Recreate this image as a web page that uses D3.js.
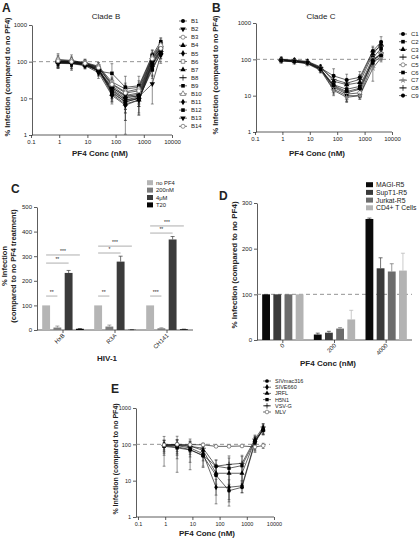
<!DOCTYPE html>
<html><head><meta charset="utf-8">
<script src="https://cdn.jsdelivr.net/npm/d3@7"></script>
<style>body{margin:0;background:#fff} svg{display:block} text{font-family:"Liberation Sans",Arial,sans-serif;fill:#222}</style>
</head><body><svg id="c" width="420" height="538"></svg>
<script>
// ---------------- DATA ----------------
const conc = [0.91, 2.74, 8.23, 24.7, 74.1, 222, 667, 2000, 4000];
const logXTicks = [0.1, 1, 10, 100, 1000, 10000];
const logYTicks = [1, 10, 100, 1000];

const cladeBNames = ["B1","B2","B3","B4","B5","B6","B7","B8","B9","B10","B11","B12","B13","B14"];
const cladeBValues = [
  [100, 98, 88, 65, 15, 8, 10, 90, 200],
  [95, 92, 85, 60, 18, 10, 12, 100, 220],
  [105, 100, 90, 70, 22, 12, 14, 120, 260],
  [98, 95, 82, 58, 13, 7, 9, 80, 180],
  [92, 90, 80, 55, 16, 9, 11, 95, 210],
  [110, 105, 95, 75, 28, 18, 20, 140, 300],
  [100, 97, 88, 62, 20, 11, 13, 110, 240],
  [96, 94, 85, 60, 17, 9, 10, 85, 190],
  [102, 99, 87, 55, 48, 20, 22, 150, 350],
  [115, 108, 92, 72, 25, 15, 18, 130, 280],
  [90, 88, 78, 50, 12, 6.5, 9, 70, 160],
  [100, 96, 86, 64, 14, 8, 10, 60, 170],
  [94, 92, 82, 58, 19, 12, 11, 25, 150],
  [105, 100, 90, 68, 24, 14, 16, 120, 230]
];
const cladeBErrors = [
  [20, 18, 12, 15, 5, 3, 3, 30, 60],
  [25, 20, 15, 12, 6, 4, 4, 35, 60],
  [30, 25, 15, 15, 8, 5, 5, 40, 70],
  [15, 20, 10, 10, 4, 3, 3, 25, 40],
  [20, 25, 12, 12, 6, 4, 5, 30, 50],
  [40, 30, 20, 20, 10, 8, 10, 60, 120],
  [20, 20, 15, 15, 7, 5, 6, 35, 60],
  [15, 18, 12, 10, 5, 4, 4, 25, 45],
  [25, 25, 15, 15, 40, 20, 18, 60, 100],
  [50, 45, 25, 20, 10, 8, 8, 50, 80],
  [25, 30, 15, 15, 5, 4, 5.5, 30, 40],
  [20, 20, 12, 12, 6, 4, 4, 25, 50],
  [25, 25, 15, 15, 8, 9.5, 7.5, 18, 60],
  [20, 25, 15, 15, 8, 6, 6, 40, 60]
];

const cladeCNames = ["C1","C2","C3","C4","C5","C6","C7","C8","C9"];
const cladeCValues = [
  [98, 92, 85, 58, 35, 27, 32, 170, 300],
  [95, 90, 80, 55, 20, 15, 18, 110, 200],
  [100, 95, 88, 62, 25, 20, 23, 140, 260],
  [92, 86, 78, 52, 18, 12, 15, 90, 150],
  [96, 90, 82, 56, 17, 11, 12, 100, 140],
  [94, 88, 80, 54, 15, 10, 10, 80, 120],
  [90, 85, 75, 50, 14, 9, 10, 57, 110],
  [97, 92, 84, 60, 28, 22, 28, 160, 230],
  [93, 87, 79, 52, 19, 13, 16, 95, 130]
];
const cladeCErrors = [
  [18, 12, 10, 8, 20, 12, 14, 60, 120],
  [10, 10, 8, 8, 6, 5, 5, 30, 50],
  [15, 12, 10, 8, 8, 6, 6, 40, 60],
  [10, 10, 8, 8, 5, 4, 4, 25, 30],
  [12, 10, 8, 8, 5, 4, 3, 25, 30],
  [10, 10, 8, 8, 4, 3, 2, 20, 25],
  [10, 10, 8, 8, 4, 2.5, 2, 32, 25],
  [15, 12, 10, 10, 10, 8, 10, 50, 60],
  [10, 10, 8, 8, 6, 4, 4, 25, 30]
];

const hivStrains = ["HxB", "R3A", "CH141"];
const cTreatments = ["no PF4", "200nM", "4\u03bcM", "T20"];
const cValues = [[100, 10, 232, 5], [100, 14, 278, 1], [100, 7, 368, 3]];
const cErrors = [[0, 6, 10, 1], [0, 6, 22, 0.5], [0, 2, 12, 0.5]];
const cSigStrain = [0, 0, 0, 1, 1, 1, 2, 2, 2];
const cSigTo = [1, 2, 3, 1, 2, 3, 1, 2, 3];
const cSigLevel = [138, 272, 305, 138, 313, 341, 138, 394, 423];
const cSigLabel = ["**", "**", "***", "**", "*", "***", "***", "**", "***"];

const dConc = ["0", "200", "4000"];
const dCells = ["MAGI-R5", "SupT1-R5", "Jurkat-R5", "CD4+ T Cells"];
const dValues = [[100, 100, 100, 100], [12, 16, 25, 45], [265, 157, 150, 152]];
const dErrors = [[0, 0, 0, 0], [3, 3, 2, 20], [2, 23, 17, 38]];

const virusNames = ["SIVmac316", "SIVE660", "JRFL", "H5N1", "VSV-G", "MLV"];
const virusValues = [
  [90, 85, 72, 48, 14, 5.3, 6.6, 110, 260],
  [95, 92, 80, 55, 6.6, 6.6, 7.2, 120, 280],
  [100, 98, 90, 68, 16, 16, 16, 130, 250],
  [88, 80, 70, 50, 25, 22, 26, 125, 240],
  [92, 95, 88, 78, 25, 28, 30, 140, 300],
  [96, 100, 98, 97, 88, 88, 90, 85, 92]
];
const virusErrors = [
  [40, 45, 40, 25, 10, 2.3, 2, 40, 80],
  [70, 75, 60, 30, 4.3, 4, 2.5, 60, 90],
  [30, 35, 30, 20, 8, 10, 8, 30, 60],
  [25, 30, 25, 15, 12, 20, 20, 30, 50],
  [35, 40, 35, 30, 12, 20, 20, 30, 70],
  [10, 10, 8, 8, 6, 6, 6, 20, 15]
];

// ---------------- STYLES ----------------
const cladeBSymbols = ["circle","triDown","circleOpen","triUp","diamond","squareOpen","triUp","plus","square","triOpen","diamond","square","triDown","circleOpen"];
const cladeCSymbols = ["circle","square","triUp","plus","circleOpen","square","starGray","plus","circle"];
const virusSymbols = ["circle","diamond","triUp","square","plus","circleOpen"];
const cColors = ["#b5b5b5", "#7d7d7d", "#3b3b3b", "#050505"];
const dColors = ["#0a0a0a", "#3a3a3a", "#6c6c6c", "#b3b3b3"];

const svg = d3.select("#c");
const AX = "#333";

const symSpec = {
  circle: [d3.symbolCircle, 0, "#000", "none"],
  square: [d3.symbolSquare, 0, "#000", "none"],
  triUp: [d3.symbolTriangle, 0, "#000", "none"],
  triDown: [d3.symbolTriangle, 180, "#000", "none"],
  diamond: [d3.symbolDiamond, 0, "#000", "none"],
  plus: [d3.symbolPlus, 0, "none", "#000"],
  circleOpen: [d3.symbolCircle, 0, "#fff", "#666"],
  squareOpen: [d3.symbolSquare, 0, "#fff", "#666"],
  triOpen: [d3.symbolTriangle, 0, "#fff", "#666"],
  starGray: [d3.symbolStar, 0, "#888", "none"]
};
function drawSym(g, name, x, y, size) {
  const s = symSpec[name];
  g.append("path").attr("d", d3.symbol().type(s[0]).size(size)())
    .attr("transform", `translate(${x},${y}) rotate(${s[1]})`)
    .attr("fill", s[2]).attr("stroke", s[3]).attr("stroke-width", 0.7);
}

function styleAxis(g, fs) {
  g.selectAll("path,line").attr("stroke", AX).attr("stroke-width", 0.8);
  g.selectAll("text").attr("font-size", fs).attr("fill", "#222");
}

function logPanel(o) {
  const g = svg.append("g");
  const x = d3.scaleLog().domain([0.1, 10000]).range([o.x0, o.x1]);
  const y = d3.scaleLog().domain([1, 1000]).range([o.yBot, o.yTop]);
  const ya = g.append("g").attr("transform", `translate(${o.axisX},0)`)
    .call(d3.axisLeft(y).tickValues(logYTicks).tickFormat(d3.format("d")).tickSize(3).tickSizeOuter(0).tickPadding(2));
  styleAxis(ya, o.fs);
  const xa = g.append("g").attr("transform", `translate(0,${o.yBot})`)
    .call(d3.axisBottom(x).tickValues(logXTicks).tickFormat(d => d < 1 ? "0.1" : d3.format("d")(d)).tickSize(3).tickSizeOuter(0).tickPadding(2));
  xa.select(".domain").attr("d", `M${o.axisX},0H${o.x1}`);
  styleAxis(xa, o.fs);
  g.append("line").attr("x1", o.axisX).attr("x2", o.dashEnd).attr("y1", y(100)).attr("y2", y(100))
    .attr("stroke", "#888").attr("stroke-width", 0.9).attr("stroke-dasharray", "4,3");
  const line = d3.line().x(d => x(d[0])).y(d => y(d[1]));
  o.values.forEach((vals, i) => {
    const pts = vals.map((v, j) => [conc[j], v]);
    g.append("path").attr("d", line(pts)).attr("fill", "none").attr("stroke", "#111").attr("stroke-width", 0.65);
  });
  o.values.forEach((vals, i) => {
    vals.forEach((v, j) => {
      const e = o.errors[i][j];
      const lo = Math.max(v - e, 1.05), hi = v + e;
      const cx = x(conc[j]);
      g.append("path").attr("d", `M${cx},${y(lo)}V${y(hi)}M${cx - 1.4},${y(lo)}H${cx + 1.4}M${cx - 1.4},${y(hi)}H${cx + 1.4}`)
        .attr("stroke", "#333").attr("stroke-width", 0.55).attr("fill", "none");
    });
  });
  o.values.forEach((vals, i) => {
    vals.forEach((v, j) => drawSym(g, o.symbols[i], x(conc[j]), y(v), o.symSize));
  });
  o.names.forEach((n, i) => {
    const ly = o.legY + i * o.legStep;
    g.append("line").attr("x1", o.legX - 4).attr("x2", o.legX + 4).attr("y1", ly).attr("y2", ly).attr("stroke", "#111").attr("stroke-width", 0.6);
    drawSym(g, o.symbols[i], o.legX, ly, o.symSize);
    g.append("text").attr("x", o.legX + 8).attr("y", ly + o.legFs * 0.35).attr("font-size", o.legFs).text(n);
  });
  if (o.title) g.append("text").attr("x", o.titleX).attr("y", o.titleY).attr("text-anchor", "middle").attr("font-size", 8).text(o.title);
  g.append("text").attr("x", o.xLabX).attr("y", o.xLabY).attr("text-anchor", "middle").attr("font-size", 8).attr("font-weight", "bold").text("PF4 Conc (nM)");
  g.append("text").attr("transform", `translate(${o.yLabX},${o.yLabY}) rotate(-90)`).attr("text-anchor", "middle")
    .attr("font-size", o.yLabFs).attr("font-weight", "bold").text("% Infection (compared to no PF4)");
}

function letter(t, x, y) {
  svg.append("text").attr("x", x).attr("y", y).attr("font-size", 12).attr("font-weight", "bold").text(t);
}

// Panel A
letter("A", 2, 12);
logPanel({x0: 31, x1: 172, axisX: 32, yTop: 25, yBot: 135, dashEnd: 168, fs: 6,
  values: cladeBValues, errors: cladeBErrors, names: cladeBNames, symbols: cladeBSymbols, symSize: 13,
  legX: 183, legY: 21, legStep: 8.1, legFs: 6, title: "Clade B", titleX: 106, titleY: 19,
  xLabX: 100, xLabY: 156, yLabX: 10, yLabY: 77, yLabFs: 7.5});

// Panel B
letter("B", 212, 12);
logPanel({x0: 255, x1: 392, axisX: 256, yTop: 23, yBot: 132, dashEnd: 390, fs: 6,
  values: cladeCValues, errors: cladeCErrors, names: cladeCNames, symbols: cladeCSymbols, symSize: 13,
  legX: 403, legY: 34, legStep: 7.7, legFs: 6, title: "Clade C", titleX: 321, titleY: 19,
  xLabX: 317, xLabY: 156, yLabX: 218, yLabY: 75, yLabFs: 7.5});

// Panel E
letter("E", 111, 393);
logPanel({x0: 138, x1: 274, axisX: 136, yTop: 408, yBot: 517, dashEnd: 270, fs: 5.5,
  values: virusValues, errors: virusErrors, names: virusNames, symbols: virusSymbols, symSize: 11,
  legX: 267, legY: 381, legStep: 6.2, legFs: 5.5, title: null,
  xLabX: 207, xLabY: 536, yLabX: 118, yLabY: 459, yLabFs: 7});

// ---------------- Bar panels ----------------
function barPanel(o) {
  const g = svg.append("g");
  const x0 = d3.scaleBand().domain(o.groups).range([o.axisX, o.xEnd]).paddingInner(0.2).paddingOuter(0.1);
  const x1 = d3.scaleBand().domain(d3.range(o.series.length)).range([0, x0.bandwidth()]).paddingInner(0.3);
  const y = d3.scaleLinear().domain([0, o.yMax]).range([o.yBot, o.yTop]);
  const ya = g.append("g").attr("transform", `translate(${o.axisX},0)`)
    .call(d3.axisLeft(y).ticks(o.yMax / 100).tickSize(3).tickSizeOuter(0).tickPadding(2));
  styleAxis(ya, o.fs);
  const xa = g.append("g").attr("transform", `translate(0,${o.yBot})`)
    .call(d3.axisBottom(x0).tickSize(3).tickSizeOuter(0).tickFormat(""));
  xa.select(".domain").attr("d", `M${o.axisX},0H${o.xEnd}`);
  styleAxis(xa, o.fs);
  if (o.dash) g.append("line").attr("x1", o.axisX).attr("x2", o.xEnd).attr("y1", y(100)).attr("y2", y(100))
    .attr("stroke", "#888").attr("stroke-width", 0.9).attr("stroke-dasharray", "4,3");
  o.groups.forEach((gr, i) => {
    o.values[i].forEach((v, k) => {
      const bx = x0(gr) + x1(k), bw = x1.bandwidth();
      const e = o.errors[i][k];
      if (e > 0) {
        const cx = bx + bw / 2;
        g.append("path").attr("d", `M${cx},${y(v)}V${y(v + e)}M${cx - 2},${y(v + e)}H${cx + 2}`)
          .attr("stroke", k === o.darkIdx ? "#333" : o.colors[k]).attr("stroke-width", 0.7);
      }
      g.append("rect").attr("x", bx).attr("width", bw).attr("y", y(v)).attr("height", o.yBot - y(v)).attr("fill", o.colors[k]);
    });
    g.append("text").attr("transform", `translate(${x0(gr) + x0.bandwidth() / 2 + 2},${o.yBot + 6}) rotate(-45)`)
      .attr("text-anchor", "end").attr("font-size", o.fs).text(gr);
  });
  o.series.forEach((s, k) => {
    const ly = o.legY + k * o.legStep;
    g.append("rect").attr("x", o.legX).attr("y", ly - 2.8).attr("width", o.legW).attr("height", 5).attr("fill", o.colors[k]);
    g.append("text").attr("x", o.legX + o.legW + 3).attr("y", ly + o.legFs * 0.35).attr("font-size", o.legFs).text(s);
  });
  return {g, x0, x1, y};
}

// Panel C
letter("C", 11, 193);
const pc = barPanel({groups: hivStrains, series: cTreatments, values: cValues, errors: cErrors, colors: cColors, darkIdx: 3,
  axisX: 37, xEnd: 193, yTop: 207, yBot: 330, yMax: 500, fs: 6, dash: false,
  legX: 147, legY: 183, legStep: 7.4, legW: 6, legFs: 5.8});
cSigStrain.forEach((s, i) => {
  const gr = hivStrains[s];
  const xa = pc.x0(gr) + pc.x1(0) + pc.x1.bandwidth() / 2;
  const xb = pc.x0(gr) + pc.x1(cSigTo[i]) + pc.x1.bandwidth() / 2;
  const yy = pc.y(cSigLevel[i]);
  pc.g.append("line").attr("x1", xa).attr("x2", xb).attr("y1", yy).attr("y2", yy).attr("stroke", "#999").attr("stroke-width", 0.8);
  pc.g.append("text").attr("x", (xa + xb) / 2).attr("y", yy - 2).attr("text-anchor", "middle").attr("font-size", 5).text(cSigLabel[i]);
});
svg.append("text").attr("x", 107).attr("y", 361).attr("text-anchor", "middle").attr("font-size", 8).attr("font-weight", "bold").text("HIV-1");
svg.append("text").attr("transform", "translate(7,266) rotate(-90)").attr("text-anchor", "middle").attr("font-size", 7.5).attr("font-weight", "bold").text("% Infection");
svg.append("text").attr("transform", "translate(16,266) rotate(-90)").attr("text-anchor", "middle").attr("font-size", 7.5).attr("font-weight", "bold").text("(compared to no PF4 treatment)");

// Panel D
letter("D", 219, 200);
barPanel({groups: dConc, series: dCells, values: dValues, errors: dErrors, colors: dColors, darkIdx: 0,
  axisX: 257, xEnd: 412, yTop: 203, yBot: 340, yMax: 300, fs: 6, dash: true,
  legX: 366, legY: 185, legStep: 7.7, legW: 7, legFs: 6.8});
svg.append("text").attr("x", 328).attr("y", 366).attr("text-anchor", "middle").attr("font-size", 8).attr("font-weight", "bold").text("PF4 Conc (nM)");
svg.append("text").attr("transform", "translate(237,265) rotate(-90)").attr("text-anchor", "middle").attr("font-size", 8).attr("font-weight", "bold").text("% Infection (compared to no PF4)");
</script></body></html>
